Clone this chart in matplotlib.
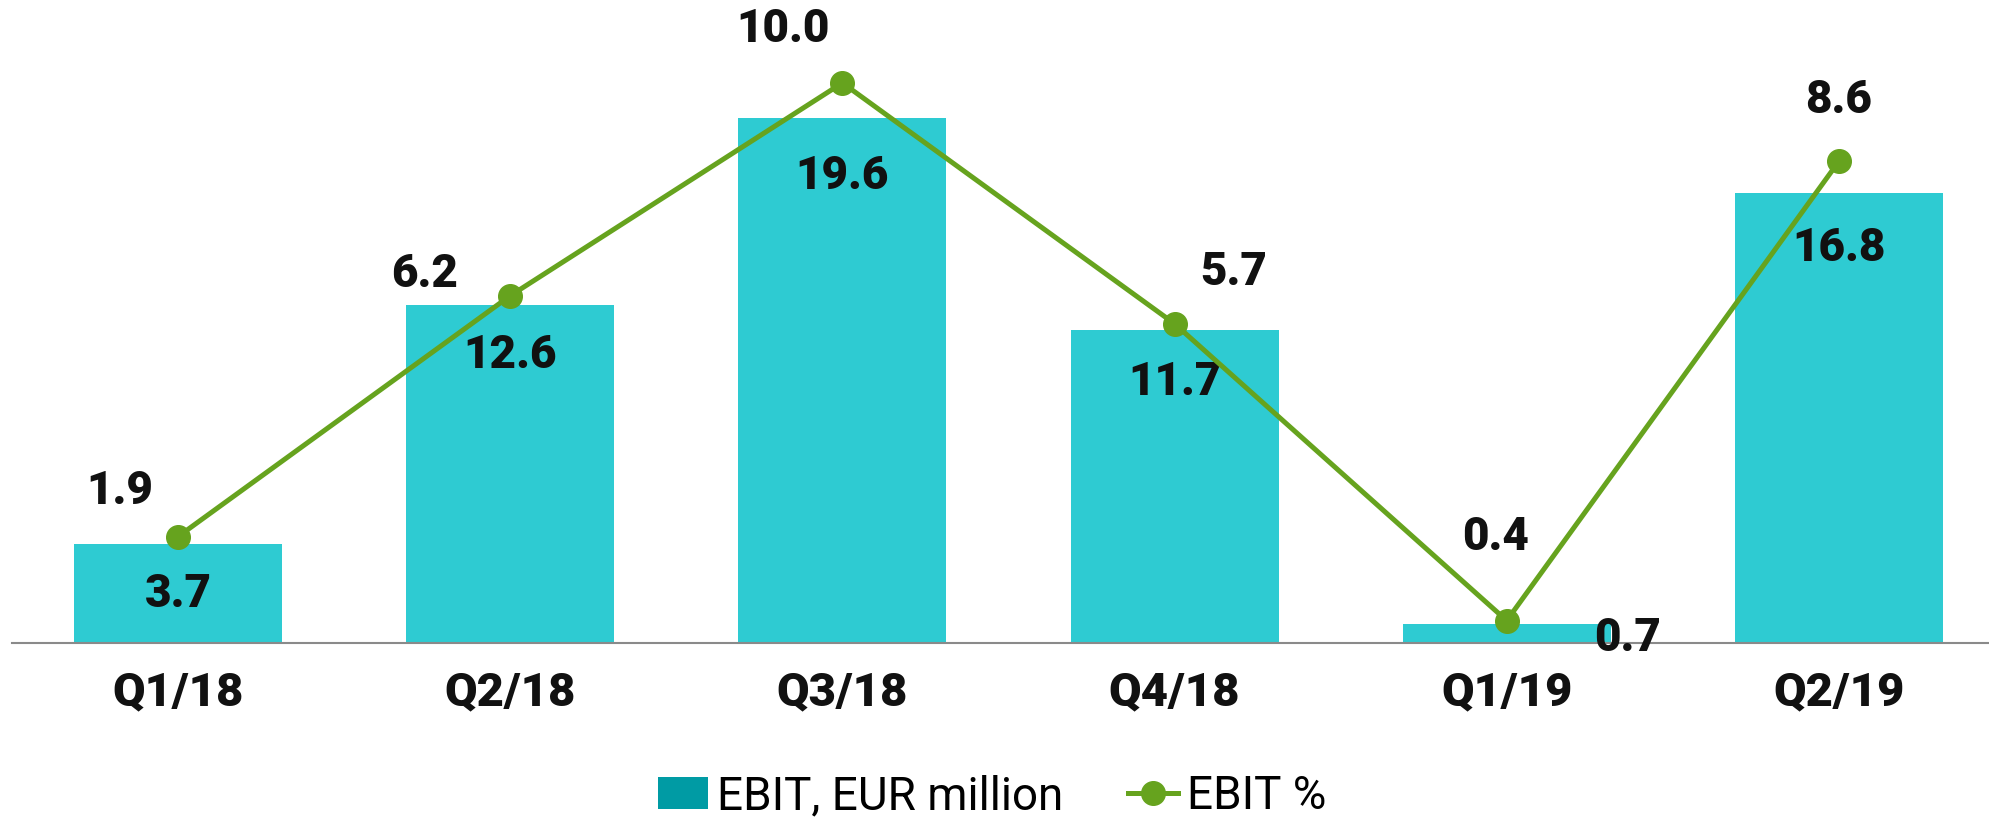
import matplotlib

matplotlib.use("Agg")
import matplotlib.pyplot as plt
from matplotlib.lines import Line2D
from matplotlib.patches import Patch

quarters = ["Q1/18", "Q2/18", "Q3/18", "Q4/18", "Q1/19", "Q2/19"]
ebit_eur = [3.7, 12.6, 19.6, 11.7, 0.7, 16.8]
ebit_pct = [1.9, 6.2, 10.0, 5.7, 0.4, 8.6]

BAR = "#2ECBD2"
BAR_LEG = "#009BA4"
LINE = "#66A31E"
INK = "#111111"
BOLD = ["Roboto", "DejaVu Sans"]
LEG = ["Roboto", "DejaVu Sans"]

# label offsets in pixels (bar labels, line labels)
bar_off = [(0, -50), (0, -50), (0, -58), (0, -52), (121, -14), (0, -55)]
pct_off = [(-58, 46), (-86, 22), (-59, 54), (59, 52), (-11, 84), (0, 61)]

W, H = 1990, 817
fig = plt.figure(figsize=(W / 100, H / 100), dpi=100)
ax = fig.add_axes([12 / W, 1 - 643 / H, 1978 / W, 643 / H])
x = range(len(quarters))
ax.bar(x, ebit_eur, width=0.626, color=BAR, zorder=1)
ax.set_xlim(-0.5, 5.455)
ax.set_ylim(0, 24.0)
for s in ("top", "right", "left"):
    ax.spines[s].set_visible(False)
ax.spines["bottom"].set_color("#8a8a8a")
ax.spines["bottom"].set_linewidth(1.5)
ax.set_yticks([])
ax.set_xticks(list(x))
ax.set_xticklabels(quarters, fontsize=34, fontweight=900, family=BOLD, color=INK)
ax.tick_params(axis="x", length=0, pad=20)

for i, v in enumerate(ebit_eur):
    ax.annotate(f"{v:.1f}", (i, v), xytext=bar_off[i], textcoords="offset pixels",
                ha="center", va="center", fontsize=33, fontweight=900,
                family=BOLD, color=INK, zorder=3)

ax2 = ax.twinx()
ax2.set_ylim(0, 11.48)
ax2.axis("off")
ax2.plot(list(x), ebit_pct, color=LINE, lw=3.6, marker="o", ms=17, zorder=2)
for i, v in enumerate(ebit_pct):
    ax2.annotate(f"{v:.1f}", (i, v), xytext=pct_off[i], textcoords="offset pixels",
                 ha="center", va="center", fontsize=33, fontweight=900,
                 family=BOLD, color=INK)

handles = [Patch(facecolor=BAR_LEG, edgecolor="none", label="EBIT, EUR million"),
           Line2D([0], [0], color=LINE, lw=3.6, marker="o", ms=17, label="EBIT %")]
fig.legend(handles=handles, loc="center", bbox_to_anchor=(992 / W, 1 - 796 / H),
           ncol=2, frameon=False, prop={"family": LEG, "size": 33},
           handlelength=1.1, handletextpad=0.2, columnspacing=1.4)

fig.savefig("out.png", dpi=100, facecolor="white")
